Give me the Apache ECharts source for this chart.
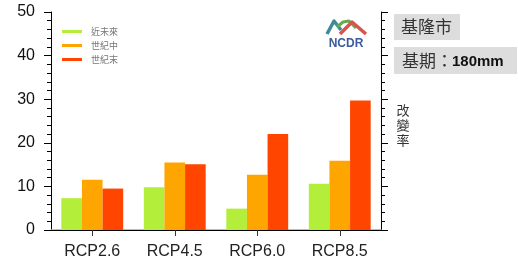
<!DOCTYPE html>
<html>
<head>
<meta charset="utf-8">
<script src="https://cdn.jsdelivr.net/npm/echarts@6/dist/echarts.min.js"></script>
<style>html,body{margin:0;padding:0;background:#fff}#c{width:518px;height:271px}</style>
</head>
<body>
<div id="c"></div>
<script>
const categories = ['RCP2.6', 'RCP4.5', 'RCP6.0', 'RCP8.5'];
const seriesNames = ['近未來', '世紀中', '世紀末'];
const nearFuture = [7.3, 9.8, 4.9, 10.6];
const midCentury = [11.5, 15.5, 12.7, 15.9];
const endCentury = [9.5, 15.1, 22.0, 29.7];
const colors = ['#B3EE3A', '#FFA500', '#FF4500'];
const cityName = '基隆市';
const baseLabel = '基期：';
const baseValue = '180mm';
const yName = '改\n變\n率';

const chart = echarts.init(document.getElementById('c'));
const fontLatin = '"Liberation Sans", Arial, sans-serif';
const fontCJK = '"Noto Sans CJK TC", "Noto Sans CJK SC", sans-serif';

const yCommon = {
  type: 'value', min: 0, max: 50, interval: 10,
  splitLine: { show: false },
  axisLine: { show: true, lineStyle: { color: '#000', width: 1 } },
  axisTick: { show: true, length: 7, lineStyle: { color: '#000' } },
  minorTick: { show: true, splitNumber: 5, length: 4, lineStyle: { color: '#000' } },
  minorSplitLine: { show: false }
};

chart.setOption({
  animation: false,
  grid: { left: 51, right: 137, top: 12, bottom: 41, containLabel: false },
  legend: {
    orient: 'vertical', left: 57, top: 22, itemGap: 5,
    itemWidth: 20, itemHeight: 3, icon: 'rect',
    textStyle: { fontFamily: fontCJK, fontSize: 9, color: '#777', padding: [0, 0, 0, 4] },
    data: seriesNames
  },
  xAxis: [
    {
      type: 'category', data: categories, position: 'bottom',
      axisLine: { show: true, lineStyle: { color: '#aaa', width: 1.5 } },
      axisTick: { show: true, alignWithLabel: true, length: 6, lineStyle: { color: '#333' } },
      axisLabel: { fontFamily: fontLatin, fontSize: 16, color: '#222', margin: 14 }
    },
    {
      type: 'category', data: categories, position: 'top',
      axisLine: { show: true, lineStyle: { color: '#000' } },
      axisTick: { show: true, alignWithLabel: true, length: 7, lineStyle: { color: '#000' } },
      axisLabel: { show: false }
    }
  ],
  yAxis: [
    Object.assign({}, yCommon, {
      position: 'left',
      axisLabel: { fontFamily: fontLatin, fontSize: 16, color: '#111', margin: 16 }
    }),
    Object.assign({}, yCommon, {
      position: 'right',
      axisLabel: { show: false }
    })
  ],
  series: [
    { name: seriesNames[0], type: 'bar', data: nearFuture, itemStyle: { color: colors[0] }, barGap: 0, barCategoryGap: '25%' },
    { name: seriesNames[1], type: 'bar', data: midCentury, itemStyle: { color: colors[1] }, barGap: 0, barCategoryGap: '25%' },
    { name: seriesNames[2], type: 'bar', data: endCentury, itemStyle: { color: colors[2] }, barGap: 0, barCategoryGap: '25%' }
  ],
  graphic: [
    { type: 'rect', shape: { x: 394, y: 14, width: 66, height: 26 }, style: { fill: '#ddd' } },
    { type: 'text', x: 401, y: 27, style: { text: cityName, font: '17px ' + fontCJK, fill: '#333', verticalAlign: 'middle' } },
    { type: 'rect', shape: { x: 394, y: 47, width: 123, height: 27 }, style: { fill: '#ddd' } },
    { type: 'text', x: 402, y: 61, style: { text: baseLabel, font: '17px ' + fontCJK, fill: '#333', verticalAlign: 'middle' } },
    { type: 'text', x: 452, y: 62, style: { text: baseValue, font: 'bold 15px "Liberation Sans Narrow", "Liberation Sans", sans-serif', fill: '#111', verticalAlign: 'middle' } },
    { type: 'text', x: 403, y: 125, style: { text: yName, font: '13px ' + fontCJK, fill: '#333', align: 'center', verticalAlign: 'middle', lineHeight: 15 } },
    // NCDR logo
    { type: 'polyline', shape: { points: [[327, 34], [334, 21], [341, 30]] }, style: { stroke: '#3f8a9a', lineWidth: 3.5, fill: null, lineJoin: 'round' } },
    { type: 'polyline', shape: { points: [[337, 27], [343, 22], [349, 21], [356, 28]] }, style: { stroke: '#6aa84f', lineWidth: 3, fill: null, lineJoin: 'round' } },
    { type: 'polyline', shape: { points: [[340, 34], [352, 22], [366, 34]] }, style: { stroke: '#d9534f', lineWidth: 3.5, fill: null, lineJoin: 'round' } },
    { type: 'text', x: 346, y: 44, style: { text: 'NCDR', font: 'bold 12px ' + fontLatin, fill: '#3b5b9b', align: 'center', verticalAlign: 'middle' } }
  ]
});
</script>
</body>
</html>
